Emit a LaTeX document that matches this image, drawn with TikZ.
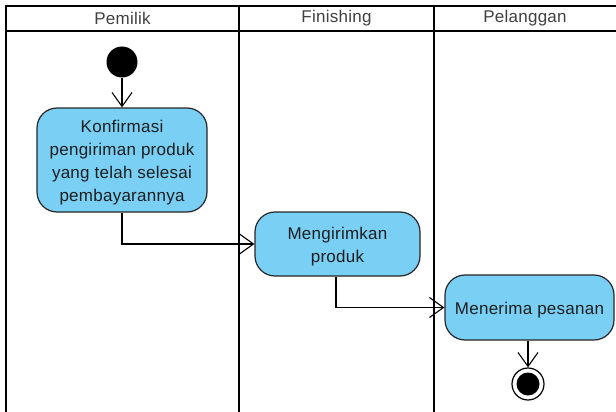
\documentclass[tikz,border=0pt]{standalone}
\usepackage{fontspec}
\setmainfont{Liberation Sans}[LetterSpace=1.5]
\usetikzlibrary{arrows.meta}
\definecolor{actfill}{HTML}{7ACFF5}
\definecolor{txt}{HTML}{1E1E1E}
\begin{document}
\begin{tikzpicture}[x=1pt,y=-1pt,
  lane/.style={draw=black,line width=2.8pt},
  lanetitle/.style={font=\fontsize{17}{19}\selectfont,text=txt!85},
  action/.style={draw=black!85,line width=1.2pt,fill=actfill,rounded corners=20pt,inner sep=0pt},
  actiontext/.style={align=center,inner sep=0pt,font=\fontsize{17}{23}\selectfont,text=txt,yshift=-3pt},
  flow/.style={draw=black,line width=1.1pt,-{Straight Barb[length=14pt,width=20pt,line width=1.1pt]}},
  startnode/.style={circle,fill=black,minimum size=31pt,inner sep=0pt},
  endring/.style={circle,draw=black,line width=1.2pt,fill=white,minimum size=32pt,inner sep=0pt},
  enddot/.style={circle,fill=black,minimum size=23pt,inner sep=0pt}]
\useasboundingbox (0,0) rectangle (616,412);
\fill[white] (0,0) rectangle (616,412);
% swimlane frame
\draw[lane] (625,6) -- (6,6) -- (6,420);
\draw[lane] (6,31) -- (625,31);
\draw[lane] (239,6) -- (239,420);
\draw[lane] (434,6) -- (434,420);
\node[lanetitle] (t1) at (122.5,18.5) {Pemilik};
\node[lanetitle] (t2) at (336.5,18.5) {Finishing};
\node[lanetitle] (t3) at (525,18.5) {Pelanggan};
% action boxes and their captions
\node[startnode] (start) at (122,62) {};
\node[action,minimum width=170pt,minimum height=104pt] (a1) at (122,160) {};
\node[actiontext] (a1t) at (a1.center)
  {Konfirmasi\\pengiriman produk\\yang telah selesai\\pembayarannya};
\node[action,minimum width=165pt,minimum height=64pt] (a2) at (337.5,244) {};
\node[actiontext] (a2t) at (a2.center) {Mengirimkan\\produk};
\node[action,minimum width=169pt,minimum height=65pt] (a3) at (529.5,307.5) {};
\node[actiontext] (a3t) at (a3.center) {Menerima pesanan};
\node[endring] (stop) at (528,384) {};
\node[enddot] (stopdot) at (stop) {};
% flows
\draw[flow] (start) -- (a1);
\draw[flow] (a1.south) |- (a2.west);
\draw[flow] (a2.south -| 336,0) |- (a3.west);
\draw[flow] (a3.south -| stop) -- (stop.north);
\end{tikzpicture}
\end{document}
